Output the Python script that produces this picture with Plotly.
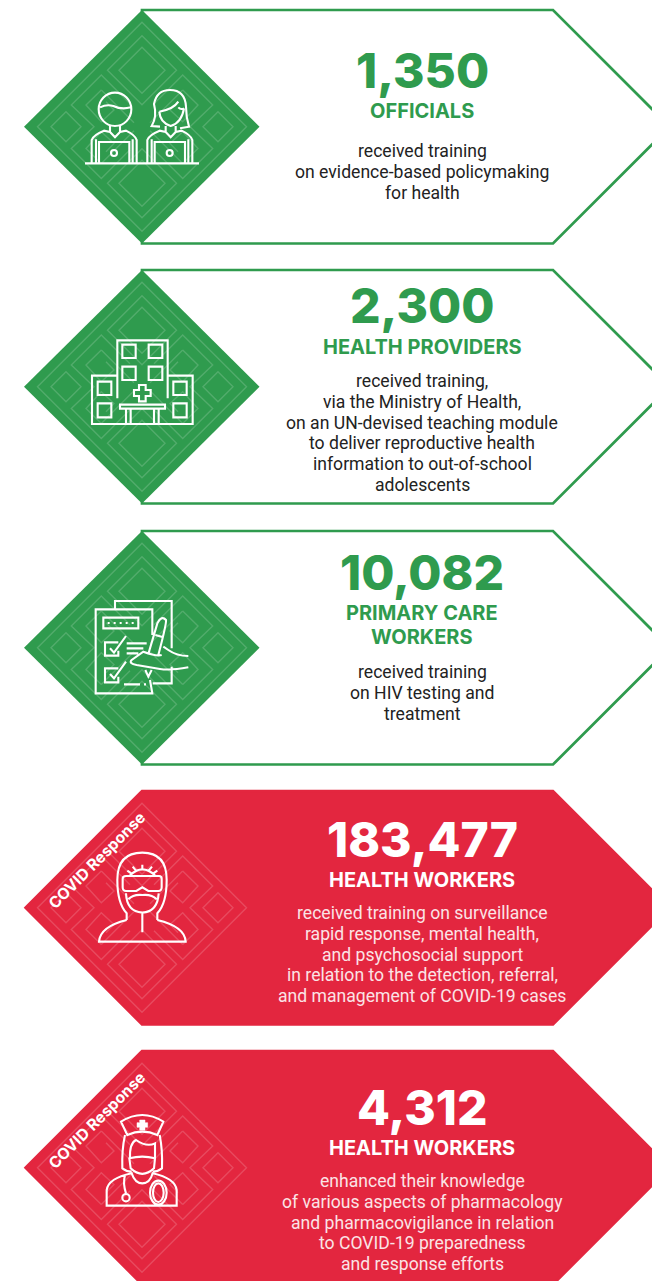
import re
import plotly.graph_objects as go

# ---- content ----
numbers = ["1,350", "2,300", "10,082", "183,477", "4,312"]
groups = [["OFFICIALS"], ["HEALTH PROVIDERS"], ["PRIMARY CARE", "WORKERS"], ["HEALTH WORKERS"], ["HEALTH WORKERS"]]
descriptions = [
    ["received training", "on evidence-based policymaking", "for health"],
    ["received training,", "via the Ministry of Health,", "on an UN-devised teaching module",
     "to deliver reproductive health", "information to out-of-school", "adolescents"],
    ["received training", "on HIV testing and", "treatment"],
    ["received training on surveillance", "rapid response, mental health,", "and psychosocial support",
     "in relation to the detection, referral,", "and management of COVID-19 cases"],
    ["enhanced their knowledge", "of various aspects of pharmacology", "and pharmacovigilance in relation",
     "to COVID-19 preparedness", "and response efforts"],
]
badges = ["", "", "", "COVID Response", "COVID Response"]

# ---- layout ----
W, H = 652, 1281
GREEN, RED = "#2F9B4E", "#E3263F"
PANEL_TOPS = [10, 270, 531, 791, 1051]
PANEL_H = 233.5
FILLED = [False, False, False, True, True]
NUM_Y = [70, 305, 572, 839, 1107]
GROUP_Y = [111, 347, 613, 880, 1148]
GROUP_STEP = 24
DESC_Y = [151, 381, 672, 913, 1181]
DESC_STEP = 20.8
TEXT_X = 422
ICON_ORIGIN = [(0, 0), (0, 260), (0, 520), (0, 780), (0, 1040)]

shapes = []


def add(path, color="white", width=2.1, fill=None, layer="above"):
    s = dict(type="path", path=path, xref="x", yref="y", layer=layer,
             line=dict(color=color, width=width))
    if fill:
        s["fillcolor"] = fill
    shapes.append(s)


def T(ox, oy, d, k=1 / 3):
    def rep(m):
        return f"{ox + float(m.group(1)) * k:.2f} {oy + float(m.group(2)) * k:.2f}"
    return re.sub(r"(-?[\d.]+) +(-?[\d.]+)", rep, d)


def rect(x0, y0, x1, y1):
    return f"M{x0} {y0} L{x1} {y0} L{x1} {y1} L{x0} {y1} Z "


def ell(cx, cy, rx, ry=None):
    ry = rx if ry is None else ry
    c = 0.5523
    return (f"M{cx-rx} {cy} C{cx-rx} {cy-c*ry} {cx-c*rx} {cy-ry} {cx} {cy-ry} "
            f"C{cx+c*rx} {cy-ry} {cx+rx} {cy-c*ry} {cx+rx} {cy} "
            f"C{cx+rx} {cy+c*ry} {cx+c*rx} {cy+ry} {cx} {cy+ry} "
            f"C{cx-c*rx} {cy+ry} {cx-rx} {cy+c*ry} {cx-rx} {cy} Z ")


def dia(cx, cy, r):
    return f"M{cx} {cy-r} L{cx+r} {cy} L{cx} {cy+r} L{cx-r} {cy} Z "


def poly(pts, close=False):
    return "M" + " L".join(f"{x} {y}" for x, y in pts) + (" Z " if close else " ")


def pattern(cx, cy):
    d = dia(0, 0, 104.5)
    d += dia(0, -56.5, 23) + dia(0, -56.5, 34.5) + dia(0, 56.5, 23) + dia(0, 56.5, 34.5)
    d += dia(-76, 0, 15) + dia(76, 0, 15)
    for sx in (1, -1):
        ring = [(12, -23), (40.7, -51.7), (70.7, -21.7), (48, 0), (70.7, 21.7), (40.7, 51.7), (12, 23)]
        d += poly([(sx * x, y) for x, y in ring])
        for sy in (1, -1):
            key = [(40.7, -36.7), (56, -21.7), (40.7, -5), (28, -16.7), (36, -25)]
            d += poly([(sx * x, sy * y) for x, y in key])
            d += poly([(sx * 40.7, sy * 36.7), (sx * 22, sy * 18), (sx * 8, sy * 4)])
    return T(cx, cy, d, 1)


def icon_people():
    d = ""
    for dx in (0, 167):
        d += f"M{275+dx} 487 L{275+dx} 420 Q{280+dx} 405 {312+dx} 392 L{330+dx} 396 L{345+dx} 412 L{360+dx} 396 L{378+dx} 392 Q{405+dx} 405 {410+dx} 420 L{410+dx} 487 "
        d += f"M{288+dx} 418 L{288+dx} 487 M{398+dx} 418 L{398+dx} 487 "
        d += f"M{297+dx} 487 L{297+dx} 426 L{388+dx} 426 L{388+dx} 487 "
        d += f"M{330+dx} 378 L{330+dx} 396 M{360+dx} 378 L{360+dx} 396 "
        d += ell(342 + dx, 459, 9)
    d += ell(345, 328, 49, 50)
    d += "M300 322 Q320 312 340 318 Q365 330 392 322 "
    d += "M480 380 L455 378 Q472 350 462 312 Q470 270 510 270 Q555 270 558 320 Q558 350 567 380 L540 385 "
    d += "M478 335 Q480 368 512 378 Q545 368 552 325 M478 335 Q520 328 535 305 M535 322 Q542 330 552 325 "
    d += "M255 490 L597 490"
    return d


def icon_hospital():
    d = "M352 415 L352 241 L503 241 L503 415 "
    for r in [(367, 254, 407, 294), (446, 254, 487, 294), (367, 320, 407, 360), (446, 320, 487, 360),
              (293, 365, 334, 405), (293, 430, 334, 472), (520, 365, 560, 405), (520, 430, 560, 472),
              (360, 434, 495, 446)]:
        d += rect(*r)
    d += "M352 347 L276 347 L276 492 L578 492 L578 347 L503 347 "
    d += poly([(417, 375), (437, 375), (437, 390), (452, 390), (452, 408), (437, 408), (437, 424),
               (417, 424), (417, 408), (402, 408), (402, 390), (417, 390)], True)
    for x in (378, 392, 462, 476):
        d += f"M{x} 446 L{x} 492 "
    return d


def icon_clipboard():
    d = "M450 480 L457 520 L287 520 L287 268 L457 268 L457 345 "
    d += "M345 268 L345 243 L515 243 L515 385 M515 440 L515 490 L458 490 "
    d += rect(310, 293, 415, 325)
    for x in (326, 344, 362, 380, 398):
        d += f"M{x-3} 309 L{x+3} 309 "
    d += "M355 367 L315 367 L315 407 L355 407 L355 392 M330 385 L342 398 L378 348 "
    d += "M355 445 L315 445 L315 487 L355 487 L355 470 M330 462 L342 475 L378 425 "
    d += "M380 370 L440 370 M380 385 L430 385 M380 400 L415 400 "
    d += "M372 493 L420 493 M432 493 L438 493 "
    d += "M445 402 L472 310 Q485 285 498 300 Q500 310 475 405 M466 345 L490 352 "
    d += "M436 450 L445 470 L455 450 "
    d += "M565 408 Q530 408 505 390 L490 380 M565 442 Q510 452 480 447 L410 435 Q385 430 395 420 L430 395 Q470 410 485 405"
    return d


def icon_suit():
    d = "M380 420 L380 400 Q352 370 352 300 Q352 218 427 218 Q500 218 500 300 Q500 370 472 400 L472 420 "
    d += "M380 420 Q300 440 297 485 L557 485 Q555 440 472 420 M427 400 L427 457 "
    d += "M378 288 L477 288 Q485 288 485 296 L485 322 Q485 333 475 333 L445 333 L427 322 L409 333 L378 333 Q368 333 368 322 L368 296 Q368 288 378 288 Z "
    d += "M390 286 Q427 250 465 286 M427 268 L427 254 M408 272 L398 260 M446 272 L456 260 M394 280 L382 272 M460 280 L472 272 "
    d += "M378 340 Q380 395 427 398 Q473 395 476 340 M385 358 Q400 342 427 345 Q455 342 470 358"
    return d


def icon_nurse():
    d = "M363 245 Q427 205 490 245 L472 285 Q427 265 382 285 Z "
    d += "M375 285 Q365 330 367 385 Q380 395 395 395 M479 285 Q488 330 486 385 Q473 395 458 395 "
    d += "M390 355 Q388 310 408 300 Q440 322 465 310 L465 355 "
    d += "M388 355 Q427 345 465 355 L462 385 Q427 418 392 385 Z "
    d += "M320 497 L320 450 Q325 415 395 400 Q405 430 427 430 Q450 430 458 400 Q525 415 530 450 L530 497 Z "
    d += "M375 405 Q368 430 378 460 " + ell(378, 473, 11) + ell(475, 458, 25, 36) + ell(475, 458, 16, 28)
    return d


ICONS = [icon_people, icon_hospital, icon_clipboard, icon_suit, icon_nurse]
CROSS = "M419 240 L435 240 L435 248 L443 248 L443 262 L435 262 L435 271 L419 271 L419 262 L411 262 L411 248 L419 248 Z"

annotations = []


def text(s, x, y, size, color, family, weight=400, angle=0):
    annotations.append(dict(text=s, x=x, y=y, xref="x", yref="y", showarrow=False,
                            xanchor="center", yanchor="middle", align="center", textangle=angle,
                            font=dict(size=size, color=color, family=family, weight=weight)))


for i, top in enumerate(PANEL_TOPS):
    cy = top + PANEL_H / 2
    bottom = top + PANEL_H
    outline = f"M142 {top} L553 {top} L{553 + PANEL_H/2} {cy} L553 {bottom} L142 {bottom} Z"
    if FILLED[i]:
        add(f"M25.5 {cy} L142 {top} L553 {top} L{553 + PANEL_H/2} {cy} L553 {bottom} L142 {bottom} Z",
            color=RED, width=2.5, fill=RED, layer="below")
    else:
        add(outline, color=GREEN, width=2.7, fill="white", layer="below")
        add(f"M24 {cy} L142 {top} L259.5 {cy} L142 {bottom} Z", color=GREEN, width=0, fill=GREEN, layer="below")
    add(pattern(142, cy), color="rgba(255,255,255,0.17)", width=1.4)
    ox, oy = ICON_ORIGIN[i]
    add(T(ox, oy, ICONS[i]()))
    if i == 4:
        add(T(ox, oy, CROSS), fill="white", width=0.5)

    fg = "white" if FILLED[i] else GREEN
    body = "#FBE3E6" if FILLED[i] else "#222222"
    text(numbers[i], TEXT_X, NUM_Y[i], 48, fg, "Inter", 800)
    for k, line in enumerate(groups[i]):
        text(line, TEXT_X, GROUP_Y[i] + k * GROUP_STEP, 20, fg, "Inter", 700)
    for k, line in enumerate(descriptions[i]):
        text(line, TEXT_X, DESC_Y[i] + k * DESC_STEP, 17.6, body, "Roboto", 400)
    if badges[i]:
        text(badges[i], 96.5, top + 69, 15.6, "white", "Inter", 700, angle=-45)

fig = go.Figure()
fig.update_layout(
    width=W, height=H, margin=dict(l=0, r=0, t=0, b=0),
    paper_bgcolor="white", plot_bgcolor="white", showlegend=False,
    xaxis=dict(range=[0, W], visible=False, fixedrange=True),
    yaxis=dict(range=[H, 0], visible=False, fixedrange=True),
    shapes=shapes, annotations=annotations,
)
fig.write_html("out.html", config=dict(displayModeBar=False),
               post_script="document.body.style.margin='0';document.documentElement.style.overflow='hidden';")
